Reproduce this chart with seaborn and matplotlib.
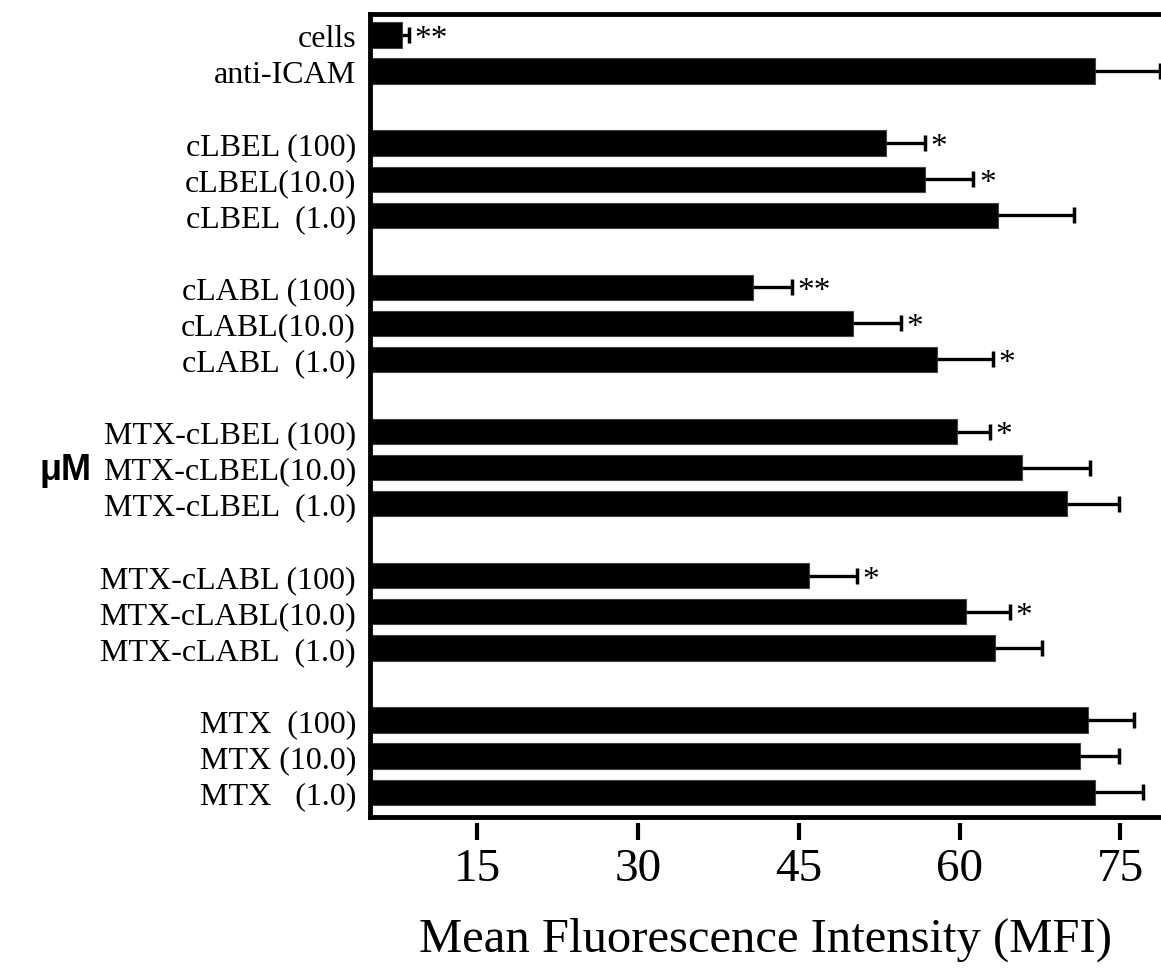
import numpy as np
import pandas as pd
import seaborn as sns
import matplotlib.pyplot as plt

# bar labels, top to bottom
labels = ["cells", "anti-ICAM",
          "cLBEL (100)", "cLBEL(10.0)", "cLBEL  (1.0)",
          "cLABL (100)", "cLABL(10.0)", "cLABL  (1.0)",
          "MTX-cLBEL (100)", "MTX-cLBEL(10.0)", "MTX-cLBEL  (1.0)",
          "MTX-cLABL (100)", "MTX-cLABL(10.0)", "MTX-cLABL  (1.0)",
          "MTX  (100)", "MTX (10.0)", "MTX   (1.0)"]
group_sizes = [2, 3, 3, 3, 3, 3]
mfi = [8.0, 72.6, 53.1, 56.8, 63.6, 40.7, 50.1, 57.9, 59.8, 65.8, 70.0,
       46.0, 60.6, 63.3, 72.0, 71.2, 72.6]
err = [0.6, 6.1, 3.7, 4.5, 7.1, 3.7, 4.4, 5.2, 3.0, 6.4, 4.9,
       4.4, 4.1, 4.4, 4.3, 3.7, 4.5]
stars = ["**", "", "*", "*", "", "**", "*", "*", "*", "", "",
         "*", "*", "", "", "", ""]
xticks = [15, 30, 45, 60, 75]

sns.set_style("ticks", {"axes.edgecolor": "black", "text.color": "black",
                        "xtick.color": "black", "ytick.color": "black",
                        "axes.labelcolor": "black"})
plt.rcParams['font.family'] = ['Liberation Serif', 'DejaVu Serif']

# category order with an empty slot between groups
order = []
i = 0
for k, n in enumerate(group_sizes):
    if k:
        order.append(" " * k)
    order += labels[i:i + n]
    i += n

df = pd.DataFrame({"label": labels, "MFI": mfi})

fig = plt.figure(figsize=(11.61, 9.70), dpi=100)
ax = fig.add_axes([0.3187, 0.1567, 1 - 0.3187, 0.9845 - 0.1567])

sns.barplot(data=df, x="MFI", y="label", order=order, color="black",
            saturation=1, width=0.7, edgecolor="#444444", linewidth=0.8,
            errorbar=None, ax=ax)

ypos = [order.index(l) for l in labels]
eb = ax.errorbar(mfi, ypos, xerr=[np.zeros(len(err)), err], fmt='none',
                 ecolor='black', elinewidth=2.4, capsize=6, capthick=2.5)
eb[1][0].set_visible(False)  # no cap at the bar end

for x, e, y, s in zip(mfi, err, ypos, stars):
    if s:
        ax.annotate(s, (x + e, y), xytext=(4, 0), textcoords='offset points',
                    ha='left', va='center_baseline', fontsize=24)

ax.set_xlim(5, 78.8)
ax.set_ylim(21.69, -0.58)
ax.set_xlabel('')
ax.set_ylabel('')
ax.spines['right'].set_visible(False)
for sp in ['left', 'top', 'bottom']:
    ax.spines[sp].set_linewidth(3.5)
ax.tick_params(axis='y', length=0, pad=10, labelsize=23)
ax.tick_params(axis='x', bottom=False, labelbottom=False)

sec = ax.secondary_xaxis(-0.007)
sec.set_xticks(xticks)
sec.spines['bottom'].set_visible(False)
sec.tick_params(direction='out', length=12, width=3, pad=6, labelsize=34)
sec.set_xlabel('Mean Fluorescence Intensity (MFI)', fontsize=35, labelpad=19)

fig.text(66 / 1161, 1 - 470 / 970, 'μM', ha='center', va='center',
         fontsize=26, fontweight='bold', family=['Liberation Sans', 'DejaVu Sans'])

fig.savefig('out.png', dpi=100)
